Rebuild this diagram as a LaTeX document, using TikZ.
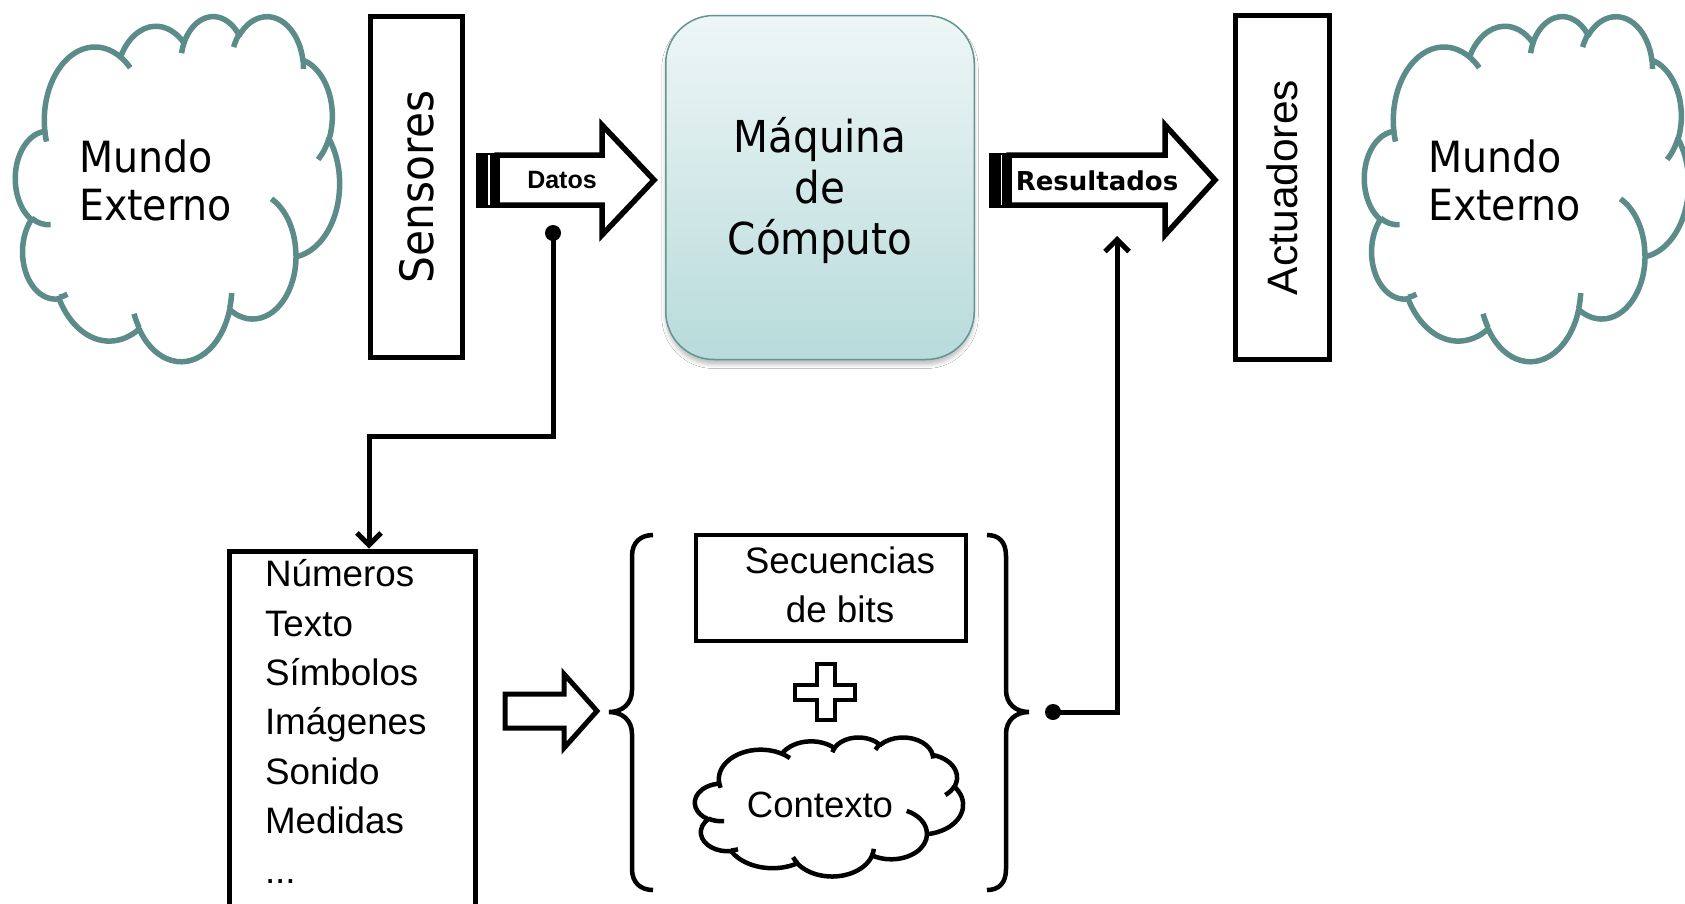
\documentclass[tikz,border=0pt]{standalone}
\usepackage{fontspec}
\setmainfont{Liberation Sans}
\newfontfamily\vsans[FakeStretch=0.92]{DejaVu Sans}
\newfontfamily\vsansplain{DejaVu Sans}
\usetikzlibrary{arrows.meta,shadows.blur,calc}

\definecolor{cloudteal}{RGB}{92,140,138}
\definecolor{boxedge}{RGB}{100,148,146}
\definecolor{boxtop}{RGB}{238,246,246}
\definecolor{boxbottom}{RGB}{184,219,219}

% one elliptic arc of the cloud outline; angles are ray angles, converted to parametric ones
\newcommand\cloudarc[4]{arc[x radius=#1, y radius=#2, start angle={vpar(#3,#1,#2)}, end angle={vpar(#3+#4,#1,#2)}]}

% cloud outline in a 100 x 100 box (y pointing down)
\newcommand\cloudoutline{(9.028,33.264)
  \cloudarc{15.632}{21.273}{-190.4875}{123.7805}
  \cloudarc{12.345}{16.822}{-144.1024}{89.9452}
  \cloudarc{10.104}{13.762}{-145.8079}{99.7230}
  \cloudarc{11.243}{15.266}{-130.9861}{117.2417}
  \cloudarc{12.345}{16.836}{-78.7089}{109.0269}
  \cloudarc{15.683}{21.343}{-46.2673}{130.2690}
  \cloudarc{13.391}{18.211}{0.6250}{114.0333}
  \cloudarc{15.630}{21.331}{22.4516}{115.1726}
  \cloudarc{17.870}{24.405}{66.2426}{75.7110}
  \cloudarc{10.093}{13.699}{-274.9421}{146.7356}
  \cloudarc{10.058}{13.762}{-246.8285}{152.5189}
  -- cycle}

% the inner creases between the puffs
\newcommand\cloudcreases{
  (10.863,60.595) \cloudarc{10.058}{13.762}{86.7420}{26.4295}
  (16.037,80.785) \cloudarc{10.093}{13.699}{73.6105}{11.4475}
  (38.144,90.486) \cloudarc{15.630}{21.331}{137.6242}{14.0811}
  (66.729,80.442) \cloudarc{15.630}{21.331}{6.4533}{15.9984}
  (79.002,53.134) \cloudarc{13.391}{18.211}{-70.2924}{70.9174}
  (96.755,35.542) \cloudarc{12.345}{16.836}{30.3180}{27.7515}
  (88.713,12.560) \cloudarc{11.243}{15.266}{-13.7443}{14.8589}
  (67.310,9.148) \cloudarc{11.243}{15.266}{-149.1815}{18.1954}
  (51.252,10.926) \cloudarc{10.104}{13.762}{-163.4943}{17.6864}
  (32.407,12.019) \cloudarc{15.632}{21.273}{-66.7070}{12.3194}
  (9.553,36.549) \cloudarc{15.632}{21.273}{157.6544}{11.8582}}

\begin{document}
\begin{tikzpicture}[x=1pt, y=-1pt,
  declare function={vpar(\t,\a,\b)=atan2(\a*sin(\t),\b*cos(\t))+360*round((\t-atan2(\a*sin(\t),\b*cos(\t)))/360);},
  tealcloud/.style={draw=cloudteal, line width=5.5pt, line join=round},
  inkcloud/.style={draw=black, line width=4.5pt, line join=round},
  blackbox/.style={draw=black, line width=5.5pt, inner sep=0pt, fill=white},
  thinbox/.style={draw=black, line width=4.5pt, inner sep=0pt},
  blockarrow/.style={draw=black, line width=5.5pt, fill=white, line join=miter, miter limit=6},
  conn/.style={line width=5pt, -{Straight Barb[length=12pt, width=24pt]}},
  bracepath/.style={draw=black, line width=4.5pt},
  txt/.style={inner sep=0pt, outer sep=0pt},
]
\useasboundingbox (0,0) rectangle (1685,903);
\fill[white] (0,0) rectangle (1685,903);
\clip (0,0) rectangle (1685,903);

% --- outer world, left
\begin{scope}[shift={(15.5,15.5)}, x=3.24pt, y=-3.45pt]
  \path[tealcloud, fill=white] \cloudoutline;
  \path[tealcloud] \cloudcreases;
\end{scope}
\node[txt, font=\vsans\fontsize{43}{48}\selectfont, align=left, anchor=base west] (worldL) at (79,220) {Mundo\\Externo};

% --- sensors
\node[blackbox, rotate=90, minimum width=341pt, minimum height=92pt,
      font=\vsans\fontsize{46}{54}\selectfont] (sensors) at (416.5,187) {Sensores};

% --- data arrow
\path[blockarrow] (497,155) -- (602,155) -- (602,125) -- (654,180) -- (602,235) -- (602,205) -- (497,205) -- cycle;
\fill[black] (476,152.5) rectangle (497.5,207.5);
\fill[white] (487.8,155) rectangle (489.8,205);
\node[txt, font=\bfseries\fontsize{25}{30}\selectfont, anchor=base] (datos) at (562,188) {Datos};

% --- computing machine
\node[draw=boxedge, line width=1.5pt, rounded corners=48pt, minimum width=308.5pt, minimum height=344pt,
      top color=boxtop, bottom color=boxbottom,
      blur shadow={shadow xshift=0pt, shadow yshift=-5pt, shadow blur radius=4pt, shadow opacity=25}] (machine) at (820,187.5) {};
\node[txt, font=\vsans\fontsize{44}{51}\selectfont, align=center, anchor=base] (machinetext) at (820,254) {Máquina\\de\\Cómputo};

% --- results arrow
\path[blockarrow] (1009,155) -- (1165,155) -- (1165,125) -- (1215,180) -- (1165,235) -- (1165,205) -- (1009,205) -- cycle;
\fill[black] (989,152.5) rectangle (1009.5,207.5);
\fill[white] (1000.5,155) rectangle (1002.3,205);
\node[txt, font=\vsansplain\bfseries\fontsize{26}{31}\selectfont, anchor=base] (resultados) at (1097,190) {Resultados};

% --- actuators
\node[blackbox, rotate=90, minimum width=344pt, minimum height=94pt,
      font=\fontsize{42.5}{50}\selectfont] (actuators) at (1282.5,187.5) {Actuadores};

% --- outer world, right
\begin{scope}[shift={(1364.5,15.5)}, x=3.24pt, y=-3.45pt]
  \path[tealcloud, fill=white] \cloudoutline;
  \path[tealcloud] \cloudcreases;
\end{scope}
\node[txt, font=\vsans\fontsize{43}{48}\selectfont, align=left, anchor=base west] (worldR) at (1428,220) {Mundo\\Externo};

% --- kinds of data
\node[blackbox, minimum width=246pt, minimum height=400pt, anchor=north] (list) at (352.5,548.5) {};
\node[txt, font=\fontsize{36.8}{49.4}\selectfont, align=left, anchor=base west] (listitems) at (265,883)
  {Números\\Texto\\Símbolos\\Imágenes\\Sonido\\Medidas\\...};

% --- data tap from the data arrow down to the list
\coordinate (datadot) at (553,233);
\coordinate (bendA) at (369,436);
\draw[conn] (datadot) |- (bendA) -- (bendA |- list.north);
\fill (datadot) circle[radius=8pt];

% --- list to representation arrow
\path[blockarrow, line width=5pt] (505,694) -- (564,694) -- (564,674) -- (597,711) -- (564,748) -- (564,728) -- (505,728) -- cycle;

% --- braces
\draw[bracepath] (653,535) .. controls (641,535) and (632,542) .. (632,556) -- (632,690)
  .. controls (632,704) and (622,712) .. (609,712) .. controls (622,712) and (632,720) .. (632,734)
  -- (632,869) .. controls (632,883) and (641,890) .. (653,890);
\draw[bracepath] (987,535) .. controls (999,535) and (1006,542) .. (1006,556) -- (1006,690)
  .. controls (1006,704) and (1016,712) .. (1029,712) .. controls (1016,712) and (1006,720) .. (1006,734)
  -- (1006,869) .. controls (1006,883) and (999,890) .. (987,890);

% --- bit sequences
\node[thinbox, minimum width=270pt, minimum height=106pt] (bits) at (831,588) {};
\node[txt, font=\fontsize{36.8}{49}\selectfont, align=center, anchor=base] (bitstext) at (840,622) {Secuencias\\de bits};

% --- plus sign
\path[draw=black, line width=4.5pt, fill=white] (817,664) -- (835,664) -- (835,685) -- (855,685) -- (855,700)
  -- (835,700) -- (835,720) -- (817,720) -- (817,700) -- (795,700) -- (795,685) -- (817,685) -- cycle;

% --- context cloud
\begin{scope}[shift={(695,737)}, x=2.68pt, y=-1.39pt]
  \path[inkcloud, fill=white] \cloudoutline;
  \path[inkcloud] \cloudcreases;
\end{scope}
\node[txt, font=\fontsize{36.5}{44}\selectfont, anchor=base] (context) at (820,817) {Contexto};

% --- results feed back into the results arrow
\coordinate (resdot) at (1053,712);
\coordinate (restarget) at (1117,236);
\draw[conn] (resdot) -| (restarget);
\fill (resdot) circle[radius=8pt];
\end{tikzpicture}
\end{document}
